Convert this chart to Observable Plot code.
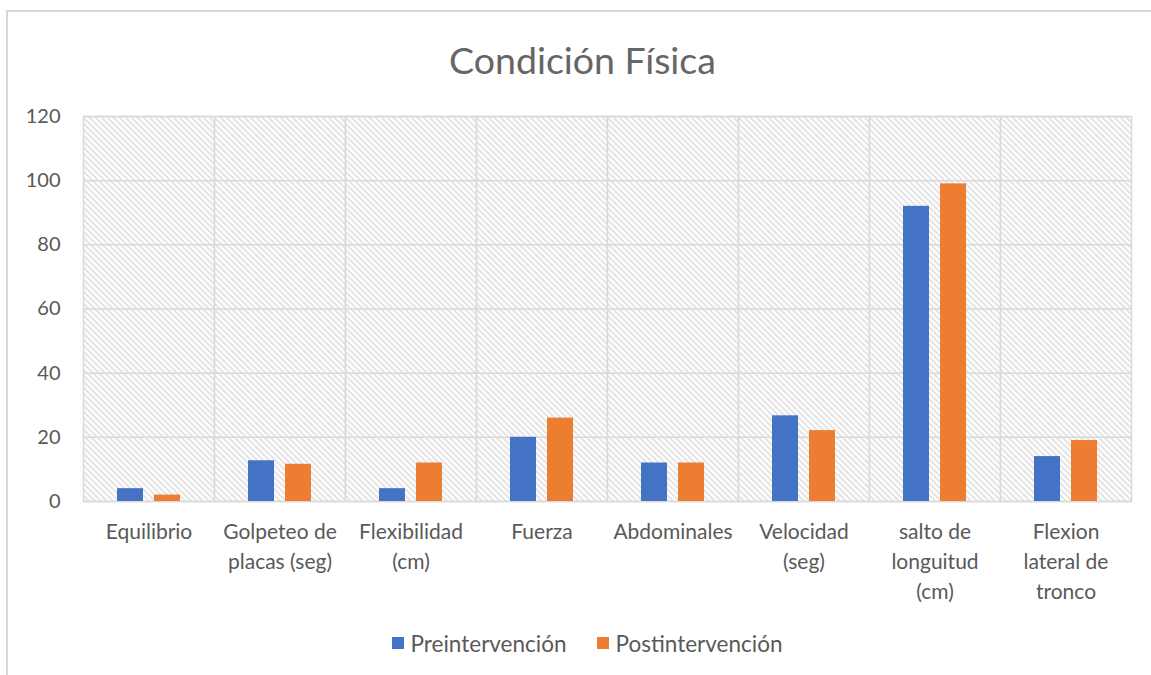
<!DOCTYPE html>
<html><head><meta charset="utf-8">
<script src="https://cdn.jsdelivr.net/npm/d3@7"></script>
<script src="https://cdn.jsdelivr.net/npm/@observablehq/plot@0.6"></script>
<style>
body{margin:0;background:#fff;font-family:Lato,"Open Sans",sans-serif;}
#wrap{position:relative;width:1151px;height:675px;overflow:hidden;background:#fff;}
#border{position:absolute;left:6px;top:10px;width:1200px;height:700px;border-left:2px solid #d9d9d9;border-top:2px solid #d9d9d9;}
#title{position:absolute;top:41px;left:0;width:1165px;text-align:center;font-size:37.5px;line-height:37.5px;color:#666666;}
#chart{position:absolute;left:0;top:100px;}
#legend{position:absolute;left:0;width:1174px;top:630px;height:26px;display:flex;justify-content:center;align-items:center;gap:30px;font-size:22.5px;color:#595959;}
#legend .item{display:flex;align-items:center;gap:7px;}
#legend .sw{width:12px;height:12px;display:inline-block;}
</style></head>
<body>
<div id="wrap">
  <div id="border"></div>
  <div id="title">Condición Física</div>
  <div id="chart"></div>
  <div id="legend"></div>
</div>
<script>
const categories = ["Equilibrio", "Golpeteo de\nplacas (seg)", "Flexibilidad\n(cm)", "Fuerza", "Abdominales", "Velocidad\n(seg)", "salto de\nlonguitud\n(cm)", "Flexion\nlateral de\ntronco"];
const series = ["Preintervención", "Postintervención"];
const colors = ["#4472C4", "#ED7D31"];
const preValues = [4, 12.7, 4, 20, 12, 26.7, 92, 14];
const postValues = [2, 11.6, 12, 26, 12, 22.1, 99, 19];
const yTicks = [0, 20, 40, 60, 80, 100, 120];

const rows = [];
categories.forEach((c, i) => {
  rows.push({cat: c, serie: series[0], value: preValues[i]});
  rows.push({cat: c, serie: series[1], value: postValues[i]});
});

const chart = Plot.plot({
  width: 1151, height: 520,
  marginLeft: 83, marginRight: 20, marginTop: 16, marginBottom: 119,
  style: {fontFamily: "Lato, 'Open Sans', sans-serif", fontSize: "19px", color: "#595959", background: "transparent"},
  fx: {domain: categories, padding: 0, label: null, axis: null},
  x: {domain: series, paddingInner: 0.3, paddingOuter: 0.92, axis: null},
  y: {domain: [0, 120], label: null, axis: null},
  color: {domain: series, range: colors},
  marks: [
    Plot.frame({fill: "url(#hatch)", stroke: "#d9d9d9", strokeWidth: 1.5}),
    Plot.ruleY(yTicks, {stroke: "#d9d9d9", strokeWidth: 1.5}),
    Plot.barY(rows, {fx: "cat", x: "serie", y: "value", fill: "serie"}),
    Plot.axisY(yTicks, {tickSize: 0, tickPadding: 23, fontSize: 20, fill: "#595959", label: null}),
    Plot.axisFx({anchor: "bottom", tickSize: 0, tickPadding: 16, fontSize: 21, lineHeight: 1.43, fill: "#595959", label: null})
  ]
});

const defs = `<defs><pattern id="hatch" patternUnits="userSpaceOnUse" width="6" height="6">
<rect width="6" height="6" fill="#ffffff"/>
<path d="M0,0 L6,6 M-1,5 L1,7 M5,-1 L7,1" stroke="#d6d6d6" stroke-width="1.3"/>
</pattern></defs>`;
chart.insertAdjacentHTML("afterbegin", defs);
document.getElementById("chart").appendChild(chart);

const legend = document.getElementById("legend");
series.forEach((s, i) => {
  const item = document.createElement("div");
  item.className = "item";
  const sw = document.createElement("span");
  sw.className = "sw";
  sw.style.background = colors[i];
  const t = document.createElement("span");
  t.textContent = s;
  item.appendChild(sw); item.appendChild(t);
  legend.appendChild(item);
});
</script>
</body></html>
